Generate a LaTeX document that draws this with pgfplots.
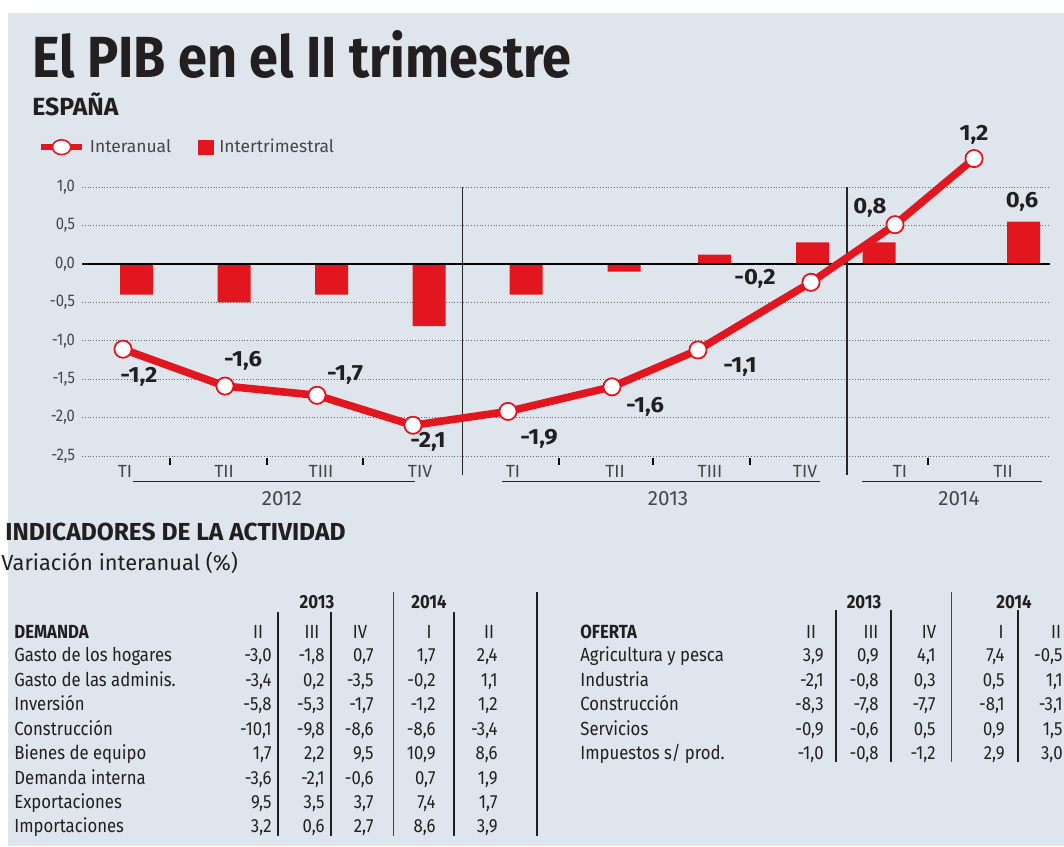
\documentclass[border=0pt]{standalone}
\usepackage{pgfplots}
\pgfplotsset{compat=1.18}
\usepackage{fontspec}
\setmainfont{Fira Sans}
\newfontfamily\cond{Fira Sans}[FakeStretch=0.88]
\newfontfamily\titlef{Fira Sans}[FakeStretch=0.9]
\newfontfamily\lblf{Fira Sans}[FakeStretch=1.08]
\definecolor{bg}{RGB}{223,229,236}
\definecolor{rojo}{RGB}{226,22,30}
\definecolor{txt}{RGB}{35,31,32}
\definecolor{gtxt}{RGB}{70,70,74}
\newcommand\fs[1]{\fontsize{#1}{#1}\selectfont}
% demand table row: y, label, 5 values
\newcommand\drow[7]{%
  \node[anchor=base west] at (14,{#1+6.5}) {#2};
  \node[anchor=base east] at (272,{#1+6.5}) {#3};
  \node[anchor=base east] at (325,{#1+6.5}) {#4};
  \node[anchor=base east] at (374,{#1+6.5}) {#5};
  \node[anchor=base east] at (436,{#1+6.5}) {#6};
  \node[anchor=base east] at (498,{#1+6.5}) {#7};}
\newcommand\orow[7]{%
  \node[anchor=base west] at (580,{#1+6.5}) {#2};
  \node[anchor=base east] at (824,{#1+6.5}) {#3};
  \node[anchor=base east] at (879,{#1+6.5}) {#4};
  \node[anchor=base east] at (936,{#1+6.5}) {#5};
  \node[anchor=base east] at (1005,{#1+6.5}) {#6};
  \node[anchor=base east] at (1063,{#1+6.5}) {#7};}
\begin{document}
\begin{tikzpicture}
\path[use as bounding box] (0,0) rectangle (532pt,-423pt);
\clip (0,0) rectangle (532pt,-423pt);
\fill[white] (0,0) rectangle (532pt,-423pt);
\fill[bg] (4pt,-6.5pt) rectangle (532pt,-423pt);
\begin{scope}[x=0.5pt,y=-0.5pt, every node/.style={inner sep=0pt, text=txt}]
  \node[anchor=base west, font=\titlef\fs{29}\bfseries] at (32,77) {El PIB en el II trimestre};
  \node[anchor=base west, font=\fs{12.4}\bfseries] at (32,115) {ESPAÑA};
  \node[anchor=base west, font=\fs{12.3}\bfseries] at (5,540) {INDICADORES DE LA ACTIVIDAD};
  \node[anchor=base west, font=\fs{10.9}] at (1,570) {Variación interanual (\%)};
  % table headers
  \begin{scope}[font=\cond\fs{9.5}]
    \node[font=\cond\fs{9.5}\bfseries, anchor=base] at (317,608.5) {2013};
    \node[font=\cond\fs{9.5}\bfseries, anchor=base] at (429,608.5) {2014};
    \node[font=\cond\fs{9.5}\bfseries, anchor=base west] at (14,638) {DEMANDA};
    \node[anchor=base] at (258,638) {II};
    \node[anchor=base] at (312,638) {III};
    \node[anchor=base] at (360,638) {IV};
    \node[anchor=base] at (429,638) {I};
    \node[anchor=base] at (489,638) {II};
    \drow{655}{Gasto de los hogares}{-3,0}{-1,8}{0,7}{1,7}{2,4}
    \drow{679.5}{Gasto de las adminis.}{-3,4}{0,2}{-3,5}{-0,2}{1,1}
    \drow{704}{Inversión}{-5,8}{-5,3}{-1,7}{-1,2}{1,2}
    \drow{728.5}{Construcción}{-10,1}{-9,8}{-8,6}{-8,6}{-3,4}
    \drow{753}{Bienes de equipo}{1,7}{2,2}{9,5}{10,9}{8,6}
    \drow{777.5}{Demanda interna}{-3,6}{-2,1}{-0,6}{0,7}{1,9}
    \drow{802}{Exportaciones}{9,5}{3,5}{3,7}{7,4}{1,7}
    \drow{826}{Importaciones}{3,2}{0,6}{2,7}{8,6}{3,9}
    \node[font=\cond\fs{9.5}\bfseries, anchor=base] at (864,608.5) {2013};
    \node[font=\cond\fs{9.5}\bfseries, anchor=base] at (1014,608.5) {2014};
    \node[font=\cond\fs{9.5}\bfseries, anchor=base west] at (580,638) {OFERTA};
    \node[anchor=base] at (811,638) {II};
    \node[anchor=base] at (871,638) {III};
    \node[anchor=base] at (929,638) {IV};
    \node[anchor=base] at (1001,638) {I};
    \node[anchor=base] at (1056,638) {II};
    \orow{655}{Agricultura y pesca}{3,9}{0,9}{4,1}{7,4}{-0,5}
    \orow{679.5}{Industria}{-2,1}{-0,8}{0,3}{0,5}{1,1}
    \orow{704}{Construcción}{-8,3}{-7,8}{-7,7}{-8,1}{-3,1}
    \orow{728.5}{Servicios}{-0,9}{-0,6}{0,5}{0,9}{1,5}
    \orow{753}{Impuestos s/ prod.}{-1,0}{-0,8}{-1,2}{2,9}{3,0}
  \end{scope}
  % table rules
  \draw[txt, line width=0.7pt] (278,612) -- (278,836);
  \draw[txt, line width=1.1pt] (331,612) -- (331,836);
  \draw[gtxt, line width=0.5pt] (393,592) -- (393,836);
  \draw[txt, line width=1.1pt] (454,612) -- (454,836);
  \draw[txt, line width=1.4pt] (537,592) -- (537,836);
  \draw[txt, line width=0.6pt] (836,610) -- (836,762);
  \draw[txt, line width=0.6pt] (891,610) -- (891,762);
  \draw[gtxt, line width=0.5pt] (951,592) -- (951,762);
  \draw[txt, line width=0.6pt] (1018,610) -- (1018,762);
\end{scope}

\begin{axis}[
  at={(41pt,-228pt)}, anchor=south west,
  scale only axis, width=484pt, height=134.5pt,
  xmin=82, xmax=1050, ymin=-2.5, ymax=1.0,
  clip=false,
  axis line style={draw=none},
  major tick length=0pt,
  /pgf/number format/assume math mode=true,
  /pgf/number format/use comma,
  /pgf/number format/fixed,
  /pgf/number format/fixed zerofill,
  /pgf/number format/precision=1,
  ytick={-2.5,-2,-1.5,-1,-0.5,0,0.5,1},
  ymajorgrids,
  grid style={densely dotted, black!60, line width=0.5pt},
  yticklabel style={font=\cond\fs{8.4}, text=gtxt},
  xtick={125,224,321,420,513,615,710,805,900,1003},
  xticklabels={TI,TII,TIII,TIV,TI,TII,TIII,TIV,TI,TII},
  xticklabel style={font=\fs{8.8}, text=gtxt, yshift=-1pt},
  legend style={at={(axis description cs:-0.0465,1.148)}, anchor=west,
    draw=none, fill=none, font=\fs{8.7}, text=gtxt, inner sep=0pt,
    legend columns=2,
    nodes={inner sep=2.6pt},
    /tikz/every even column/.append style={column sep=11pt}},
  legend cell align=left,
]
\addlegendimage{legend image code/.code={
  \draw[rojo, line width=3.2pt] (0pt,0pt) -- (20.5pt,0pt);
  \draw[rojo, line width=0.8pt, fill=white] (10.5pt,0pt) ellipse [x radius=4.6pt, y radius=3.7pt];}}
\addlegendentry{Interanual}
\addlegendimage{legend image code/.code={
  \fill[rojo] (0pt,-3.5pt) rectangle (7.5pt,3.5pt);}}
\addlegendentry{Intertrimestral}

% Intertrimestral bars
\addplot[ybar, bar width=33, bar shift=0pt, fill=rojo, draw=none, forget plot]
  coordinates {(136.5,-0.40) (234,-0.50) (331.5,-0.40) (429,-0.81) (526,-0.40)
               (624,-0.10) (714.5,0.12) (812.5,0.28) (879,0.28) (1023.5,0.55)};

\draw[black, line width=1pt] (axis cs:82,0) -- (axis cs:1050,0);
\draw[black!85, line width=0.7pt] (axis cs:462.5,1) -- (axis cs:462.5,-2.744);
\draw[black!85, line width=0.7pt] (axis cs:847,1) -- (axis cs:847,-2.744);
\pgfplotsinvokeforeach{170,267,363,559,653,750,928}{
  \draw[black, line width=1.1pt] (axis cs:#1,-2.53) -- (axis cs:#1,-2.62);}
\draw[black!85, line width=0.6pt] (axis cs:133,-2.835) -- (axis cs:415,-2.835);
\draw[black!85, line width=0.6pt] (axis cs:502,-2.835) -- (axis cs:820,-2.835);
\draw[black!85, line width=0.6pt] (axis cs:862,-2.835) -- (axis cs:1042,-2.835);
\node[font=\fs{10.3}, text=gtxt] at (axis cs:282,-3.058) {2012};
\node[font=\fs{10.3}, text=gtxt] at (axis cs:668,-3.058) {2013};
\node[font=\fs{10.3}, text=gtxt] at (axis cs:959,-3.058) {2014};

% Interanual line
\addplot[rojo, line width=3.8pt, line join=round, mark=*, mark size=4.3pt,
  mark options={fill=white, draw=rojo, line width=0.9pt}, forget plot]
  coordinates {(123,-1.11) (225,-1.59) (317,-1.71) (413,-2.10) (508,-1.92)
               (612,-1.60) (698,-1.12) (811,-0.24) (895,0.51) (974,1.37)};

\begin{scope}[every node/.style={font=\lblf\fs{11}\bfseries, text=txt}]
\node at (axis cs:139,-1.476) {-1,2};
\node at (axis cs:243,-1.267) {-1,6};
\node at (axis cs:345,-1.450) {-1,7};
\node at (axis cs:428,-2.32) {-2,1};
\node at (axis cs:539,-2.273) {-1,9};
\node at (axis cs:645,-1.855) {-1,6};
\node at (axis cs:740,-1.345) {-1,1};
\node at (axis cs:755,-0.195) {-0,2};
\node at (axis cs:870,0.733) {0,8};
\node at (axis cs:974,1.675) {1,2};
\node at (axis cs:1022,0.812) {0,6};
\end{scope}
\end{axis}
\end{tikzpicture}
\end{document}
